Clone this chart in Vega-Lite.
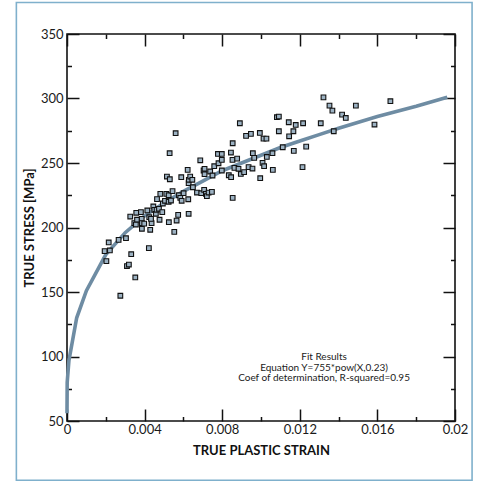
{
  "$schema": "https://vega.github.io/schema/vega-lite/v6.json",
  "width": 388,
  "height": 387,
  "autosize": "none",
  "padding": {"left": 67, "top": 34, "right": 29, "bottom": 60},
  "background": "#ffffff",
  "config": {
    "view": {"stroke": "#111111", "strokeWidth": 1.6},
    "axis": {
      "domain": false,
      "grid": false,
      "labelFont": "Lato",
      "labelFontSize": 13,
      "labelColor": "#1a1a1a",
      "labelFlush": false,
      "labelOverlap": false,
      "titleFont": "Lato",
      "titleFontSize": 13,
      "titleFontWeight": "bold",
      "titleColor": "#111111",
      "tickColor": "#111111",
      "tickWidth": 1.5
    }
  },
  "datasets": {
    "points": [
      {"strain": 0.00194, "stress": 181.7}, {"strain": 0.00215, "stress": 188.4}, {"strain": 0.00203, "stress": 173.9},
      {"strain": 0.00221, "stress": 182.2}, {"strain": 0.00266, "stress": 190.4}, {"strain": 0.00275, "stress": 147.1},
      {"strain": 0.00304, "stress": 191.7}, {"strain": 0.00309, "stress": 170.1}, {"strain": 0.00319, "stress": 171.3},
      {"strain": 0.00326, "stress": 208.5}, {"strain": 0.00331, "stress": 179.3}, {"strain": 0.00352, "stress": 161.3},
      {"strain": 0.00347, "stress": 203.4}, {"strain": 0.00357, "stress": 211.4}, {"strain": 0.00361, "stress": 206.0},
      {"strain": 0.00355, "stress": 202.3}, {"strain": 0.00381, "stress": 211.9}, {"strain": 0.00385, "stress": 206.7},
      {"strain": 0.00386, "stress": 203.4}, {"strain": 0.00386, "stress": 199.0}, {"strain": 0.00398, "stress": 203.0},
      {"strain": 0.00414, "stress": 213.2}, {"strain": 0.00422, "stress": 184.0}, {"strain": 0.00424, "stress": 208.0},
      {"strain": 0.00429, "stress": 198.2}, {"strain": 0.00436, "stress": 203.4}, {"strain": 0.00433, "stress": 206.7},
      {"strain": 0.00445, "stress": 216.3}, {"strain": 0.0045, "stress": 213.7}, {"strain": 0.00458, "stress": 210.6},
      {"strain": 0.00464, "stress": 222.0}, {"strain": 0.00462, "stress": 213.7}, {"strain": 0.00477, "stress": 206.0},
      {"strain": 0.00481, "stress": 226.1}, {"strain": 0.00474, "stress": 214.5}, {"strain": 0.00491, "stress": 211.9},
      {"strain": 0.00494, "stress": 218.6}, {"strain": 0.00505, "stress": 220.7}, {"strain": 0.00512, "stress": 226.1},
      {"strain": 0.00515, "stress": 239.5}, {"strain": 0.00524, "stress": 219.9}, {"strain": 0.00525, "stress": 204.1},
      {"strain": 0.00529, "stress": 257.6}, {"strain": 0.0053, "stress": 237.4}, {"strain": 0.00524, "stress": 225.0},
      {"strain": 0.00536, "stress": 220.9}, {"strain": 0.00544, "stress": 228.2}, {"strain": 0.00553, "stress": 196.6},
      {"strain": 0.0056, "stress": 273.1}, {"strain": 0.00565, "stress": 205.4}, {"strain": 0.00573, "stress": 209.8},
      {"strain": 0.00577, "stress": 225.0}, {"strain": 0.00589, "stress": 239.0}, {"strain": 0.00584, "stress": 223.0},
      {"strain": 0.00591, "stress": 220.7}, {"strain": 0.00601, "stress": 226.6}, {"strain": 0.00622, "stress": 244.7},
      {"strain": 0.00627, "stress": 234.4}, {"strain": 0.00625, "stress": 221.9}, {"strain": 0.00627, "stress": 210.6},
      {"strain": 0.00628, "stress": 237.0}, {"strain": 0.00635, "stress": 239.5}, {"strain": 0.00649, "stress": 231.2},
      {"strain": 0.00646, "stress": 237.0}, {"strain": 0.0067, "stress": 227.1}, {"strain": 0.00687, "stress": 252.1},
      {"strain": 0.00692, "stress": 226.6}, {"strain": 0.00704, "stress": 244.2}, {"strain": 0.00707, "stress": 229.2},
      {"strain": 0.00709, "stress": 241.3}, {"strain": 0.00716, "stress": 226.1}, {"strain": 0.00721, "stress": 224.3},
      {"strain": 0.00709, "stress": 245.5}, {"strain": 0.0073, "stress": 227.1}, {"strain": 0.00738, "stress": 243.4},
      {"strain": 0.00747, "stress": 227.6}, {"strain": 0.0075, "stress": 240.3}, {"strain": 0.00759, "stress": 247.5},
      {"strain": 0.00778, "stress": 257.0}, {"strain": 0.00781, "stress": 249.8}, {"strain": 0.00798, "stress": 257.0},
      {"strain": 0.00798, "stress": 252.4}, {"strain": 0.00798, "stress": 244.2}, {"strain": 0.00834, "stress": 240.5},
      {"strain": 0.00845, "stress": 258.1}, {"strain": 0.00846, "stress": 239.0}, {"strain": 0.00853, "stress": 252.4},
      {"strain": 0.00854, "stress": 265.3}, {"strain": 0.00854, "stress": 223.0}, {"strain": 0.00863, "stress": 246.2},
      {"strain": 0.00877, "stress": 253.4}, {"strain": 0.00884, "stress": 245.5}, {"strain": 0.00891, "stress": 280.8},
      {"strain": 0.00896, "stress": 241.5}, {"strain": 0.00913, "stress": 242.9}, {"strain": 0.00923, "stress": 271.0},
      {"strain": 0.00936, "stress": 246.8}, {"strain": 0.00948, "stress": 272.6}, {"strain": 0.00956, "stress": 245.7},
      {"strain": 0.00958, "stress": 257.6}, {"strain": 0.00965, "stress": 254.0}, {"strain": 0.00994, "stress": 273.3},
      {"strain": 0.00996, "stress": 238.2}, {"strain": 0.01008, "stress": 250.1}, {"strain": 0.01013, "stress": 268.9},
      {"strain": 0.01016, "stress": 247.5}, {"strain": 0.01028, "stress": 268.9}, {"strain": 0.0103, "stress": 254.7},
      {"strain": 0.01059, "stress": 257.6}, {"strain": 0.01061, "stress": 244.7}, {"strain": 0.01082, "stress": 285.5},
      {"strain": 0.01092, "stress": 286.0}, {"strain": 0.01092, "stress": 274.6}, {"strain": 0.01112, "stress": 262.2},
      {"strain": 0.01143, "stress": 281.6}, {"strain": 0.01145, "stress": 270.7}, {"strain": 0.01167, "stress": 274.6},
      {"strain": 0.01169, "stress": 259.4}, {"strain": 0.01179, "stress": 279.5}, {"strain": 0.01214, "stress": 246.8},
      {"strain": 0.01217, "stress": 280.8}, {"strain": 0.01233, "stress": 262.7}, {"strain": 0.01308, "stress": 280.8},
      {"strain": 0.01322, "stress": 300.9}, {"strain": 0.01353, "stress": 294.5}, {"strain": 0.01368, "stress": 290.6},
      {"strain": 0.01375, "stress": 274.6}, {"strain": 0.01418, "stress": 287.5}, {"strain": 0.01437, "stress": 284.9},
      {"strain": 0.01489, "stress": 294.5}, {"strain": 0.01585, "stress": 279.8}, {"strain": 0.01667, "stress": 297.9}
    ],
    "fit": [
      {"strain": 0, "stress": 56}, {"strain": 0.00001, "stress": 80}, {"strain": 0.0001, "stress": 97},
      {"strain": 0.0005, "stress": 130}, {"strain": 0.001, "stress": 151}, {"strain": 0.002, "stress": 179},
      {"strain": 0.003, "stress": 196}, {"strain": 0.004, "stress": 209}, {"strain": 0.005, "stress": 219},
      {"strain": 0.006, "stress": 228}, {"strain": 0.007, "stress": 236}, {"strain": 0.008, "stress": 244},
      {"strain": 0.009, "stress": 250}, {"strain": 0.01, "stress": 256}, {"strain": 0.011, "stress": 262},
      {"strain": 0.012, "stress": 267}, {"strain": 0.013, "stress": 272}, {"strain": 0.014, "stress": 277},
      {"strain": 0.016, "stress": 286}, {"strain": 0.018, "stress": 294}, {"strain": 0.0196, "stress": 301}
    ],
    "note": [
      {"strain": 0.01325, "stress": 99.6, "label": "Fit Results\nEquation Y=755*pow(X,0.23)\nCoef of determination, R-squared=0.95"}
    ]
  },
  "layer": [
    {
      "data": {"values": [{"a": 1}]},
      "mark": {"type": "rect", "filled": false, "stroke": "#7fb0cc", "strokeWidth": 1.6, "clip": false},
      "encoding": {
        "x": {"datum": -0.00261, "type": "quantitative",
          "scale": {"domain": [0, 0.02], "nice": false, "zero": false},
          "axis": {"orient": "bottom", "values": [0, 0.004, 0.008, 0.012, 0.016, 0.02], "format": "~g",
            "title": "TRUE PLASTIC STRAIN", "tickSize": -12, "labelPadding": 14, "titlePadding": 8}},
        "x2": {"datum": 0.02088},
        "y": {"datum": 4, "type": "quantitative",
          "scale": {"domain": [50, 350], "nice": false, "zero": false},
          "axis": {"orient": "left", "values": [50, 100, 150, 200, 250, 300, 350],
            "title": "TRUE STRESS [MPa]", "tickSize": -12, "labelPadding": 16, "titlePadding": 4}},
        "y2": {"datum": 374.4}
      }
    },
    {
      "data": {"name": "fit"},
      "mark": {"type": "line", "color": "#6e8ca3", "strokeWidth": 3.6, "strokeCap": "butt", "interpolate": "linear"},
      "encoding": {
        "x": {"field": "strain", "type": "quantitative",
          "scale": {"domain": [0, 0.02], "nice": false, "zero": false},
          "axis": {"orient": "top", "values": [0, 0.004, 0.008, 0.012, 0.016, 0.02], "labels": false, "title": null, "tickSize": -12}},
        "y": {"field": "stress", "type": "quantitative",
          "scale": {"domain": [50, 350], "nice": false, "zero": false},
          "axis": {"orient": "right", "values": [50, 100, 150, 200, 250, 300, 350], "labels": false, "title": null, "tickSize": -12}}
      }
    },
    {
      "data": {"name": "points"},
      "mark": {"type": "point", "shape": "square", "filled": true, "fill": "#9cb2c3", "stroke": "#111111", "strokeWidth": 1.1, "size": 22, "opacity": 1},
      "encoding": {
        "x": {"field": "strain", "type": "quantitative",
          "scale": {"domain": [0, 0.02], "nice": false, "zero": false},
          "axis": {"orient": "bottom", "values": [0.002, 0.006, 0.01, 0.014, 0.018], "labels": false, "title": null, "tickSize": -4.5}},
        "y": {"field": "stress", "type": "quantitative",
          "scale": {"domain": [50, 350], "nice": false, "zero": false},
          "axis": {"orient": "left", "values": [75, 125, 175, 225, 275, 325], "labels": false, "title": null, "tickSize": -4.5}}
      }
    },
    {
      "data": {"name": "note"},
      "mark": {"type": "text", "font": "Lato", "fontSize": 10, "lineHeight": 10.5, "lineBreak": "\n", "align": "center", "baseline": "middle", "color": "#1a1a1a"},
      "encoding": {
        "x": {"field": "strain", "type": "quantitative",
          "scale": {"domain": [0, 0.02], "nice": false, "zero": false},
          "axis": {"orient": "top", "values": [0.002, 0.006, 0.01, 0.014, 0.018], "labels": false, "title": null, "tickSize": -4.5}},
        "y": {"field": "stress", "type": "quantitative",
          "scale": {"domain": [50, 350], "nice": false, "zero": false},
          "axis": {"orient": "right", "values": [75, 125, 175, 225, 275, 325], "labels": false, "title": null, "tickSize": -4.5}},
        "text": {"field": "label"}
      }
    }
  ],
  "resolve": {"axis": {"x": "independent", "y": "independent"}}
}
